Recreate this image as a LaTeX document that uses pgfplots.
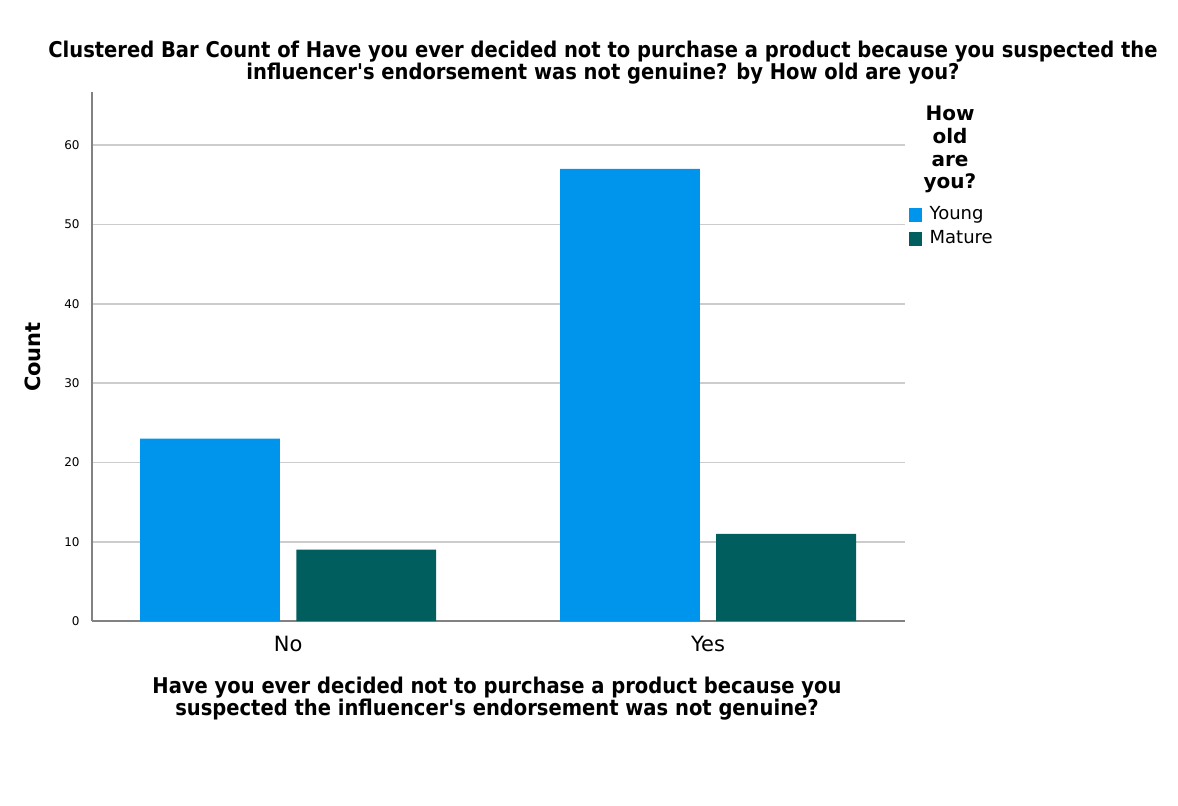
\documentclass[border=0pt]{standalone}
\usepackage{pgfplots}
\pgfplotsset{compat=1.18}
\usepackage{fontspec}
\setmainfont{DejaVu Sans}
\newfontfamily\condbold{DejaVu Sans Condensed Bold}
\newfontfamily\dvbold{DejaVu Sans Bold}
\newfontfamily\dv{DejaVu Sans}
\definecolor{young}{RGB}{0,149,236}
\definecolor{mature}{RGB}{0,94,94}
\definecolor{gridc}{RGB}{204,204,204}
\definecolor{axc}{RGB}{130,130,130}
\begin{document}
\begin{tikzpicture}
\path[use as bounding box] (0pt,0pt) rectangle (589pt,-402.5pt);
\node[align=center, font=\condbold\fontsize{10.85}{11}\selectfont] at (301.5pt,-31.5pt)
  {Clustered Bar Count of Have you ever decided not to purchase a product because you suspected the\\ influencer's endorsement was not genuine? by How old are you?};
\node[align=center, font=\condbold\fontsize{10.85}{11}\selectfont] at (248.5pt,-349.5pt)
  {Have you ever decided not to purchase a product because you\\ suspected the influencer's endorsement was not genuine?};
\node[rotate=90, font=\dvbold\fontsize{10.5}{12}\selectfont] at (16.5pt,-178.5pt) {Count};
\node[align=center, font=\dvbold\fontsize{10}{11.4}\selectfont] at (475pt,-74.8pt) {How\\ old\\ are\\ you?};
\begin{axis}[
  at={(46pt,-310.5pt)}, anchor=south west,
  scale only axis, width=406.5pt, height=264.5pt,
  xmin=-0.467, xmax=1.469, ymin=0, ymax=66.7,
  axis lines*=left,
  axis line style={axc, line width=0.9pt},
  ybar, bar width=0.333,
  xtick={0,1}, xticklabels={No,Yes},
  ytick={0,10,20,30,40,50,60},
  ymajorgrids, grid style={gridc, line width=0.8pt},
  major tick length=0pt,
  yticklabel style={inner sep=0pt, xshift=-6pt, font=\dv\fontsize{6}{7}\selectfont},
  xticklabel style={inner sep=0pt, yshift=-7.5pt, font=\dv\fontsize{10.5}{12}\selectfont},
  /pgf/number format/assume math mode=true,
  legend style={at={(rel axis cs:1.004,0.792)}, anchor=north west, draw=none, fill=none,
     inner sep=0pt, font=\dv\fontsize{9}{10}\selectfont, row sep=0pt,
     nodes={inner xsep=4pt, inner ysep=2pt}},
  legend cell align=left,
  legend image code/.code={\fill[#1] (0pt,-3.5pt) rectangle (6.5pt,3.5pt);},
  clip=false,
]
\addplot[fill=young, draw=none, bar shift=-0.186] coordinates {(0,23) (1,57)};
\addplot[fill=mature, draw=none, bar shift=0.186] coordinates {(0,9) (1,11)};
\legend{Young,Mature}
\end{axis}
\end{tikzpicture}
\end{document}
